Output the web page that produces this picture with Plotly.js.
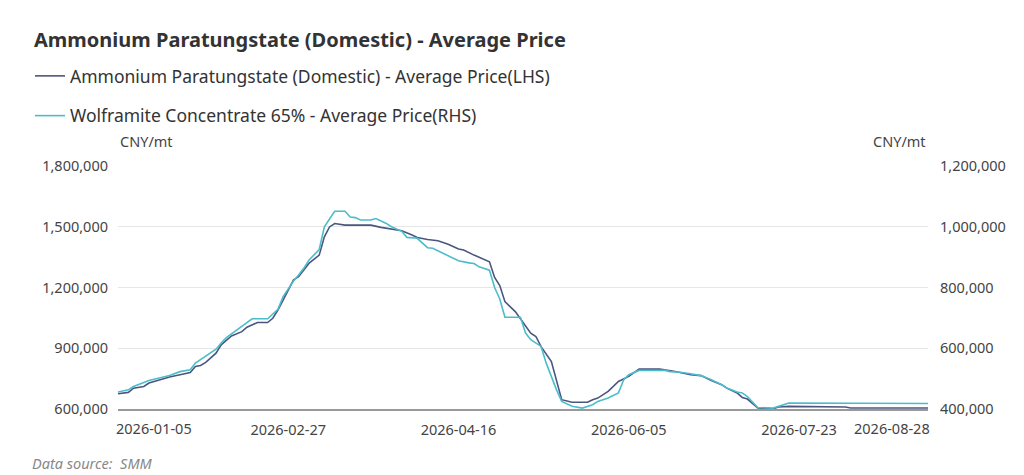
<!DOCTYPE html>
<html>
<head>
<meta charset="utf-8">
<script src="https://cdn.plot.ly/plotly-3.0.1.min.js"></script>
<style>
  html, body { margin: 0; padding: 0; background: #fff; }
  #chart { width: 1024px; height: 475px; }
</style>
</head>
<body>
<div id="chart"></div>
<script>
// ---- Data (x = trading-day index from 2026-01-05) ----
const aptDays = [0, 2, 3, 5, 6, 8, 10, 12, 14, 15, 16, 17, 19, 20, 21, 22, 24, 25, 27, 29,
  30, 31, 32, 34, 35, 36, 37, 39, 40, 41, 42, 44, 49, 51, 53, 55, 57, 58, 60, 62,
  64, 66, 67, 69, 72, 73, 74, 75, 77, 79, 80, 81, 82, 84, 85, 86, 88, 91, 92, 93,
  95, 97, 99, 101, 105, 107, 108, 111, 113, 115, 117, 118, 120, 121, 122, 124, 127, 128, 130, 141,
  142, 157];
const aptPrice = [675000, 682000, 703000, 711000, 728000, 744000, 758000, 769000, 780000, 810000,
  815000, 830000, 876000, 917000, 941000, 961000, 982000, 1004000, 1027000, 1027000,
  1048000, 1089000, 1138000, 1237000, 1253000, 1286000, 1319000, 1360000, 1450000, 1499000,
  1516000, 1508000, 1508000, 1497000, 1487000, 1480000, 1459000, 1447000, 1437000, 1431000,
  1414000, 1390000, 1385000, 1360000, 1327000, 1250000, 1210000, 1130000, 1081000, 1007000,
  974000, 958000, 908000, 834000, 744000, 646000, 633000, 633000, 646000, 654000,
  687000, 736000, 761000, 797000, 797000, 789000, 785000, 769000, 765000, 741000,
  720000, 703000, 679000, 657000, 649000, 605000, 601000, 610000, 613000, 610000,
  605000, 605000];

const wolfDays = [0, 2, 3, 5, 6, 8, 10, 12, 14, 15, 17, 19, 20, 21, 22, 24, 25, 26, 29, 31,
  32, 34, 35, 36, 37, 39, 40, 41, 42, 44, 45, 46, 47, 49, 50, 52, 53, 55, 56, 58,
  59, 60, 61, 63, 65, 66, 68, 69, 70, 72, 73, 74, 75, 78, 79, 80, 82, 83, 85, 86,
  88, 90, 92, 93, 95, 97, 98, 99, 101, 106, 107, 109, 111, 113, 115, 117, 118, 120, 121, 122,
  124, 127, 130, 157];
const wolfPrice = [456000, 463000, 474000, 487000, 494000, 502000, 510000, 523000, 529000, 551000,
  573000, 597000, 617000, 635000, 647000, 671000, 682000, 697000, 697000, 728000,
  770000, 821000, 841000, 863000, 890000, 925000, 1000000, 1027000, 1051000, 1051000,
  1032000, 1030000, 1022000, 1022000, 1027000, 1011000, 1000000, 985000, 965000, 962000,
  945000, 931000, 929000, 912000, 896000, 888000, 881000, 879000, 868000, 857000,
  800000, 762000, 702000, 702000, 650000, 628000, 606000, 551000, 463000, 425000,
  409000, 403000, 414000, 425000, 436000, 453000, 496000, 513000, 527000, 527000,
  523000, 521000, 516000, 510000, 496000, 480000, 469000, 456000, 453000, 441000,
  405000, 403000, 420000, 418000];

const tickDays = [0, 33, 66, 99, 132, 157];
const tickDates = ['2026-01-05', '2026-02-27', '2026-04-16', '2026-06-05', '2026-07-23', '2026-08-28'];

const lastDay = tickDays[tickDays.length - 1];
const fontFamily = '"Noto Sans", "Open Sans", sans-serif';

// plot box in pixels, used to place the outer texts
const plotLeft = 118, plotRight = 928, plotTop = 166, plotBottom = 409;
const plotW = plotRight - plotLeft, plotH = plotBottom - plotTop;

const traceApt = {
  x: aptDays,
  y: aptPrice,
  name: 'Ammonium Paratungstate (Domestic) - Average Price(LHS)',
  type: 'scatter',
  mode: 'lines',
  line: { color: '#4b5680', width: 1.6 },
  legendgroup: 'a'
};

const traceWolf = {
  x: wolfDays,
  y: wolfPrice,
  name: 'Wolframite Concentrate 65% - Average Price(RHS)',
  type: 'scatter',
  mode: 'lines',
  yaxis: 'y2',
  line: { color: '#4cbccb', width: 1.6 },
  legendgroup: 'b'
};

// middle ticks on the axis, edge labels as annotations (left/right aligned)
const midVals = tickDays.slice(1, -1);
const midText = tickDates.slice(1, -1);
const tickFont = { size: 14.5, color: '#444' };

const layout = {
  width: 1024,
  height: 475,
  paper_bgcolor: '#fff',
  plot_bgcolor: '#fff',
  font: { family: fontFamily, color: '#333', size: 14 },
  margin: { t: plotTop, r: 1024 - plotRight, b: 475 - plotBottom, l: plotLeft, autoexpand: false },
  title: {
    text: 'Ammonium Paratungstate (Domestic) - Average Price',
    x: 34 / 1024, xanchor: 'left', xref: 'container',
    y: 1 - 40 / 475, yanchor: 'middle', yref: 'container',
    font: { size: 20, weight: 'bold', color: '#333' }
  },
  showlegend: true,
  legend: {
    xref: 'container', yref: 'container',
    x: 30 / 1024, xanchor: 'left',
    y: 1 - 58 / 475, yanchor: 'top',
    orientation: 'v',
    traceorder: 'grouped',
    tracegroupgap: 14,
    font: { size: 17.5, color: '#333' },
    bgcolor: 'rgba(0,0,0,0)'
  },
  xaxis: {
    range: [0, lastDay],
    tickmode: 'array',
    tickvals: midVals,
    ticktext: midText,
    showgrid: false,
    zeroline: false,
    showline: true,
    linecolor: '#999',
    linewidth: 1.5,
    ticks: '',
    ticklabelstandoff: 7,
    tickfont: tickFont
  },
  yaxis: {
    range: [600000, 1800000],
    dtick: 300000,
    tickformat: ',d',
    gridcolor: '#e6e6e6',
    zeroline: false,
    ticks: '',
    ticklabelstandoff: 9,
    tickfont: tickFont
  },
  yaxis2: {
    range: [400000, 1200000],
    dtick: 200000,
    tickformat: ',d',
    overlaying: 'y',
    side: 'right',
    showgrid: false,
    zeroline: false,
    ticks: '',
    ticklabelstandoff: 11,
    tickfont: tickFont
  },
  annotations: [
    { text: 'CNY/mt', xref: 'paper', yref: 'paper', x: 0, y: 1, xanchor: 'left', yanchor: 'middle',
      yshift: 166 - 141, showarrow: false, font: tickFont },
    { text: 'CNY/mt', xref: 'paper', yref: 'paper', x: 1, y: 1, xanchor: 'right', yanchor: 'middle',
      yshift: 166 - 141, showarrow: false, font: tickFont },
    { text: tickDates[0], xref: 'x', yref: 'paper', x: tickDays[0], y: 0, xanchor: 'left', yanchor: 'middle',
      yshift: 409 - 428, xshift: -4, showarrow: false, font: tickFont },
    { text: tickDates[tickDates.length - 1], xref: 'x', yref: 'paper', x: lastDay, y: 0, xanchor: 'right', yanchor: 'middle',
      yshift: 409 - 428, xshift: 4, showarrow: false, font: tickFont },
    { text: '<i>Data source:  SMM</i>', xref: 'paper', yref: 'paper',
      x: (34 - plotLeft) / plotW, y: (plotBottom - 463) / plotH,
      xanchor: 'left', yanchor: 'middle', xshift: -4, showarrow: false, font: { size: 14.5, color: '#888' } }
  ]
};

Plotly.newPlot('chart', [traceApt, traceWolf], layout, { displayModeBar: false, responsive: false });
</script>
</body>
</html>
